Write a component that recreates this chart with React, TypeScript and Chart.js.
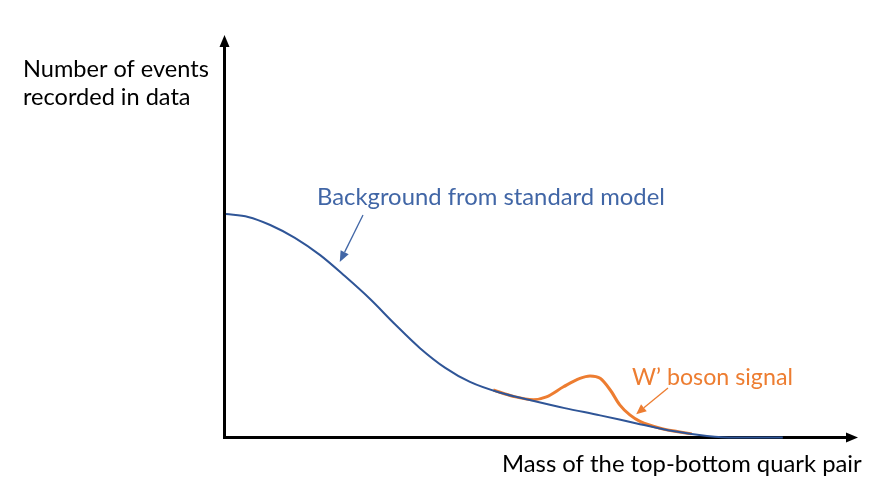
import React, { useEffect, useRef } from "react";
import { Chart, registerables } from "chart.js";

Chart.register(...registerables);

// Background from standard model (arbitrary units)
const bgMass = [0, 3.5, 7.0, 10.9, 14.9, 18.8, 22.8, 26.7, 30.7, 34.7, 38.6, 43.4, 48.1, 53.6, 59.2, 65.0, 70.7, 76.1, 80.5, 88.1];
const bgEvents = [55.5, 54.8, 52.8, 49.6, 45.3, 40.1, 34.4, 28.2, 22.2, 17.3, 13.8, 11.1, 9.3, 7.3, 5.5, 3.5, 1.6, 0.4, 0, 0];

// W' boson signal on top of background
const sigMass = [42.3, 45.5, 48.6, 50.7, 53.4, 56.0, 57.6, 59.2, 60.8, 62.3, 63.9, 65.5, 68.7, 73.7];
const sigEvents = [11.8, 10.2, 9.4, 10.1, 12.6, 14.7, 15.3, 14.7, 11.8, 8.1, 5.6, 4.0, 2.3, 0.9];

const xAxisLabel = "Mass of the top-bottom quark pair";
const yAxisLabel = ["Number of events", "recorded in data"];
const bgLabel = "Background from standard model";
const sigLabel = "W\u2019 boson signal";

const BLUE = "#2F5597";
const BLUE_TEXT = "#4166A6";
const ORANGE = "#ED7D31";
const FAMILY = 'Lato, "Open Sans", sans-serif';

function fitSize(ctx: CanvasRenderingContext2D, text: string, width: number) {
  ctx.font = `100px ${FAMILY}`;
  const w = ctx.measureText(text).width;
  return (100 * width) / w;
}

function arrow(
  ctx: CanvasRenderingContext2D,
  x1: number, y1: number, x2: number, y2: number,
  color: string, lw: number, headLen: number, headW: number
) {
  const ang = Math.atan2(y2 - y1, x2 - x1);
  const bx = x2 - Math.cos(ang) * headLen;
  const by = y2 - Math.sin(ang) * headLen;
  ctx.save();
  ctx.strokeStyle = color;
  ctx.fillStyle = color;
  ctx.lineWidth = lw;
  ctx.beginPath();
  ctx.moveTo(x1, y1);
  ctx.lineTo(bx, by);
  ctx.stroke();
  const px = -Math.sin(ang) * headW;
  const py = Math.cos(ang) * headW;
  ctx.beginPath();
  ctx.moveTo(x2, y2);
  ctx.lineTo(bx + px, by + py);
  ctx.lineTo(bx - px, by - py);
  ctx.closePath();
  ctx.fill();
  ctx.restore();
}

const schematicPlugin = {
  id: "schematic",
  beforeDatasetsDraw(chart: any) {
    const { ctx, chartArea } = chart;
    const ax = chartArea.left - 1.5;
    const ay = chartArea.bottom;
    ctx.save();
    ctx.strokeStyle = "#000";
    ctx.fillStyle = "#000";
    ctx.lineWidth = 3;
    // y axis
    ctx.beginPath();
    ctx.moveTo(ax, ay + 1.5);
    ctx.lineTo(ax, chartArea.top + 11);
    ctx.stroke();
    ctx.beginPath();
    ctx.moveTo(ax, chartArea.top);
    ctx.lineTo(ax - 5, chartArea.top + 12);
    ctx.lineTo(ax + 5, chartArea.top + 12);
    ctx.closePath();
    ctx.fill();
    // x axis
    ctx.beginPath();
    ctx.moveTo(ax - 1.5, ay);
    ctx.lineTo(chartArea.right - 11, ay);
    ctx.stroke();
    ctx.beginPath();
    ctx.moveTo(chartArea.right, ay);
    ctx.lineTo(chartArea.right - 12, ay - 5);
    ctx.lineTo(chartArea.right - 12, ay + 5);
    ctx.closePath();
    ctx.fill();
    ctx.restore();
  },
  afterDatasetsDraw(chart: any) {
    const { ctx } = chart;
    const xs = chart.scales.x;
    const ys = chart.scales.y;
    ctx.save();
    ctx.textBaseline = "alphabetic";
    ctx.textAlign = "left";

    // y axis label
    const s1 = fitSize(ctx, yAxisLabel[0], 186);
    ctx.font = `${s1}px ${FAMILY}`;
    ctx.fillStyle = "#000";
    ctx.fillText(yAxisLabel[0], 23, 77);
    ctx.fillText(yAxisLabel[1], 23, 105);

    // x axis label
    const s2 = fitSize(ctx, xAxisLabel, 360);
    ctx.font = `${s2}px ${FAMILY}`;
    ctx.fillText(xAxisLabel, 502, 472);

    // background annotation
    const s3 = fitSize(ctx, bgLabel, 348);
    ctx.font = `${s3}px ${FAMILY}`;
    ctx.fillStyle = BLUE_TEXT;
    ctx.fillText(bgLabel, 317, 205);
    arrow(ctx, 363, 215, xs.getPixelForValue(18.0), ys.getPixelForValue(43.6), BLUE_TEXT, 1.3, 11, 4.5);

    // signal annotation
    const s4 = fitSize(ctx, sigLabel, 161);
    ctx.font = `${s4}px ${FAMILY}`;
    ctx.fillStyle = ORANGE;
    ctx.fillText(sigLabel, 632, 385);
    arrow(ctx, 668, 388, xs.getPixelForValue(64.9), ys.getPixelForValue(5.8), ORANGE, 1.3, 10, 4.5);
    ctx.restore();
  },
};

export default function App() {
  const ref = useRef<HTMLCanvasElement | null>(null);
  useEffect(() => {
    if (!ref.current) return;
    const chart = new Chart(ref.current, {
      type: "line",
      data: {
        datasets: [
          {
            label: "Background",
            data: bgMass.map((x, i) => ({ x, y: bgEvents[i] })),
            borderColor: BLUE,
            borderWidth: 2,
            pointRadius: 0,
            cubicInterpolationMode: "monotone",
            fill: false,
            clip: false as any,
          },
          {
            label: "Signal",
            data: sigMass.map((x, i) => ({ x, y: sigEvents[i] })),
            borderColor: ORANGE,
            borderWidth: 3,
            pointRadius: 0,
            cubicInterpolationMode: "monotone",
            fill: false,
            clip: false as any,
          },
        ],
      },
      options: {
        responsive: false,
        animation: false,
        layout: { padding: { left: 226, right: 33, top: 35, bottom: 58.5 } },
        scales: {
          x: { type: "linear", min: 0, max: 100, display: false },
          y: { type: "linear", min: 0, max: 100, display: false },
        },
        plugins: {
          legend: { display: false },
          tooltip: { enabled: false },
        },
        events: [],
      },
      plugins: [schematicPlugin],
    });
    return () => chart.destroy();
  }, []);
  return (
    <div style={{ position: "absolute", left: 0, top: 0, width: 891, height: 496, background: "#fff" }}>
      <canvas ref={ref} width={891} height={496} />
    </div>
  );
}
